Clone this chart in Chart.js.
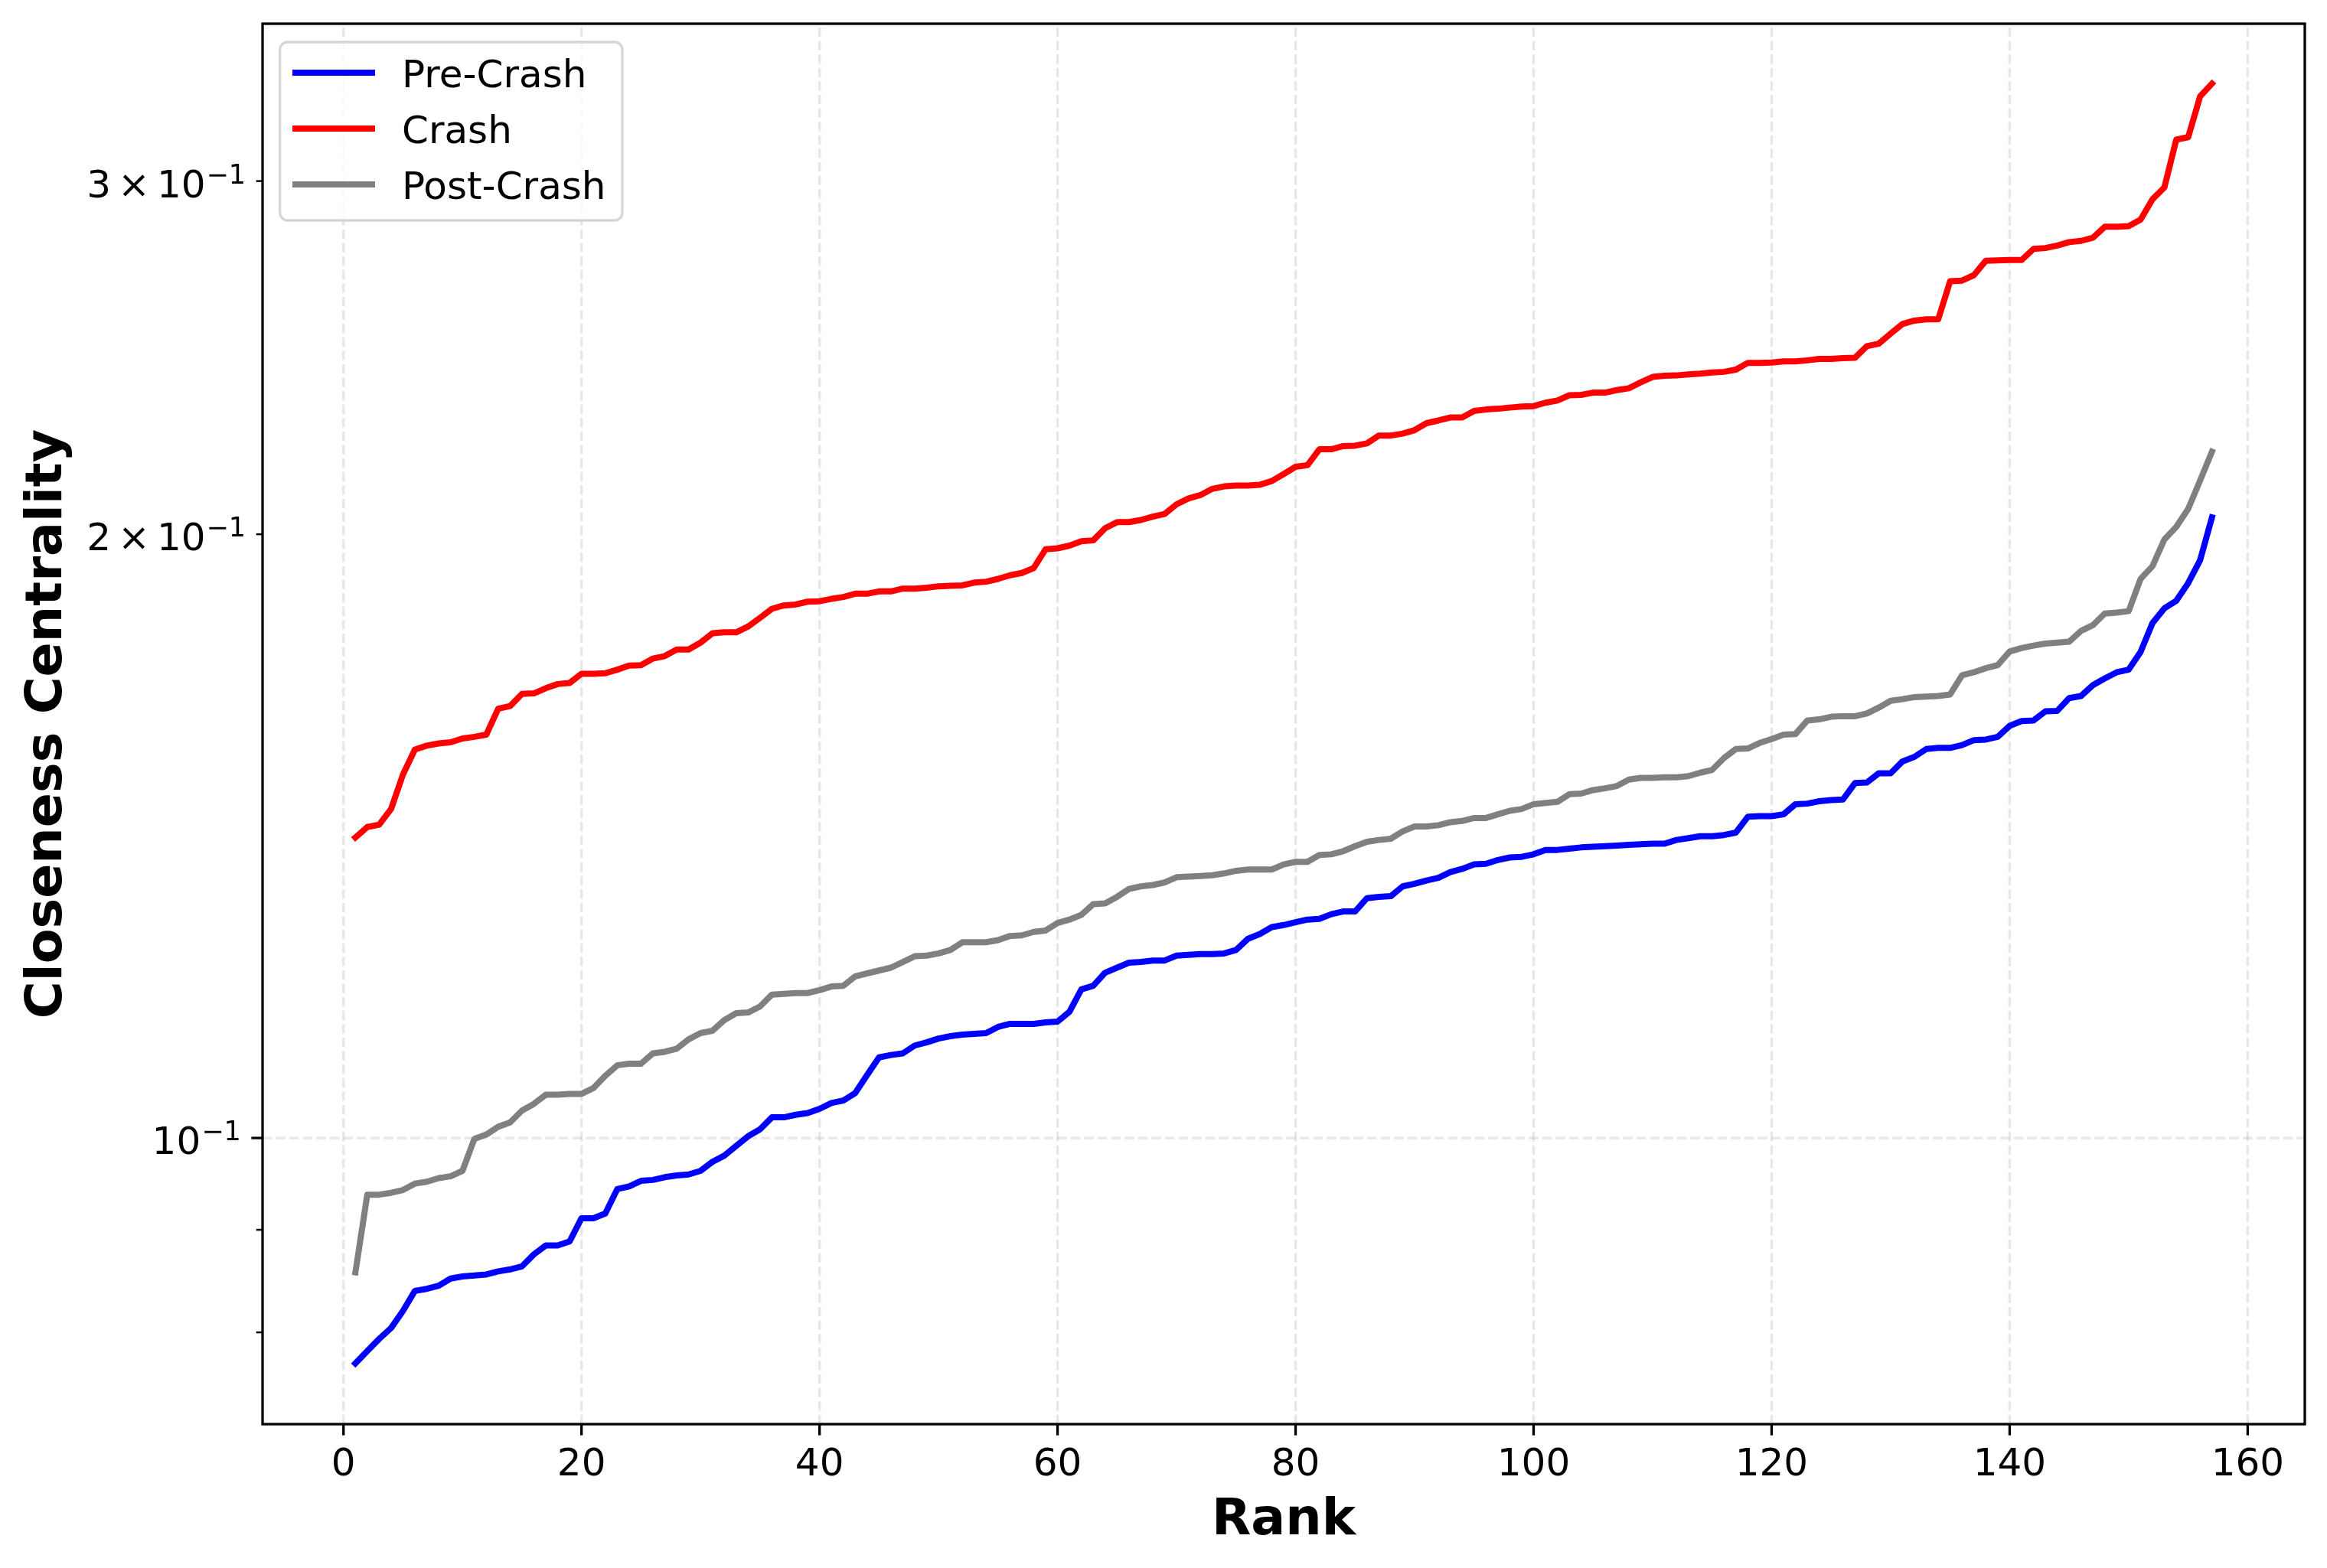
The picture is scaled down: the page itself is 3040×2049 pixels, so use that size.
<!DOCTYPE html>
<html>
<head>
<meta charset="utf-8">
<script src="https://cdn.jsdelivr.net/npm/chart.js@4.4.1/dist/chart.umd.min.js"></script>
<style>
  html, body { margin: 0; padding: 0; background: #fff; }
  canvas { display: block; }
</style>
</head>
<body>
<canvas id="chart" width="3040" height="2049"></canvas>
<script>
// rank (x) and closeness centrality per period (y)
const RANK = [
  1, 2, 3, 4, 5, 6, 7, 8, 9, 10, 11, 12, 13, 14, 15, 16, 17, 18, 19, 20,
  21, 22, 23, 24, 25, 26, 27, 28, 29, 30, 31, 32, 33, 34, 35, 36, 37, 38, 39, 40,
  41, 42, 43, 44, 45, 46, 47, 48, 49, 50, 51, 52, 53, 54, 55, 56, 57, 58, 59, 60,
  61, 62, 63, 64, 65, 66, 67, 68, 69, 70, 71, 72, 73, 74, 75, 76, 77, 78, 79, 80,
  81, 82, 83, 84, 85, 86, 87, 88, 89, 90, 91, 92, 93, 94, 95, 96, 97, 98, 99, 100,
  101, 102, 103, 104, 105, 106, 107, 108, 109, 110, 111, 112, 113, 114, 115, 116, 117, 118, 119, 120,
  121, 122, 123, 124, 125, 126, 127, 128, 129, 130, 131, 132, 133, 134, 135, 136, 137, 138, 139, 140,
  141, 142, 143, 144, 145, 146, 147, 148, 149, 150, 151, 152, 153, 154, 155, 156, 157
];

const PRE_CRASH = [
  0.0772, 0.0783, 0.0794, 0.0804, 0.0820, 0.0839, 0.0841, 0.0844, 0.0851, 0.0853,
  0.0854, 0.0855, 0.0858, 0.0860, 0.0863, 0.0875, 0.0884, 0.0884, 0.0888, 0.0912,
  0.0912, 0.0917, 0.0943, 0.0946, 0.0952, 0.0953, 0.0956, 0.0958, 0.0959, 0.0963,
  0.0973, 0.0980, 0.0991, 0.1002, 0.1010, 0.1024, 0.1024, 0.1027, 0.1029, 0.1034,
  0.1041, 0.1044, 0.1053, 0.1075, 0.1097, 0.1100, 0.1102, 0.1112, 0.1116, 0.1121,
  0.1124, 0.1126, 0.1127, 0.1128, 0.1136, 0.1140, 0.1140, 0.1140, 0.1142, 0.1143,
  0.1156, 0.1186, 0.1191, 0.1209, 0.1216, 0.1223, 0.1224, 0.1226, 0.1226, 0.1233,
  0.1234, 0.1235, 0.1235, 0.1236, 0.1241, 0.1257, 0.1264, 0.1274, 0.1277, 0.1281,
  0.1285, 0.1286, 0.1293, 0.1297, 0.1297, 0.1317, 0.1319, 0.1320, 0.1335, 0.1339,
  0.1344, 0.1348, 0.1357, 0.1362, 0.1369, 0.1370, 0.1376, 0.1380, 0.1381, 0.1385,
  0.1392, 0.1392, 0.1394, 0.1396, 0.1397, 0.1398, 0.1399, 0.1400, 0.1401, 0.1402,
  0.1402, 0.1408, 0.1411, 0.1414, 0.1414, 0.1416, 0.1420, 0.1446, 0.1447, 0.1447,
  0.1450, 0.1467, 0.1468, 0.1472, 0.1474, 0.1475, 0.1503, 0.1504, 0.1520, 0.1520,
  0.1541, 0.1549, 0.1563, 0.1565, 0.1565, 0.1570, 0.1579, 0.1580, 0.1585, 0.1605,
  0.1614, 0.1615, 0.1632, 0.1633, 0.1657, 0.1661, 0.1682, 0.1695, 0.1707, 0.1712,
  0.1747, 0.1806, 0.1837, 0.1853, 0.1891, 0.1941, 0.2039
];

const CRASH = [
  0.1412, 0.1429, 0.1433, 0.1459, 0.1518, 0.1562, 0.1569, 0.1573, 0.1575, 0.1582,
  0.1585, 0.1589, 0.1637, 0.1642, 0.1665, 0.1666, 0.1676, 0.1684, 0.1686, 0.1704,
  0.1704, 0.1705, 0.1712, 0.1720, 0.1721, 0.1734, 0.1739, 0.1752, 0.1752, 0.1766,
  0.1785, 0.1787, 0.1787, 0.1799, 0.1817, 0.1836, 0.1843, 0.1845, 0.1851, 0.1852,
  0.1857, 0.1861, 0.1868, 0.1868, 0.1873, 0.1873, 0.1879, 0.1879, 0.1881, 0.1884,
  0.1885, 0.1886, 0.1892, 0.1894, 0.1900, 0.1908, 0.1913, 0.1924, 0.1966, 0.1968,
  0.1974, 0.1984, 0.1986, 0.2014, 0.2028, 0.2028, 0.2033, 0.2041, 0.2047, 0.2070,
  0.2084, 0.2092, 0.2107, 0.2113, 0.2115, 0.2115, 0.2117, 0.2126, 0.2143, 0.2161,
  0.2165, 0.2205, 0.2205, 0.2213, 0.2214, 0.2220, 0.2240, 0.2240, 0.2245, 0.2254,
  0.2272, 0.2279, 0.2287, 0.2287, 0.2304, 0.2308, 0.2310, 0.2313, 0.2316, 0.2317,
  0.2326, 0.2332, 0.2346, 0.2347, 0.2353, 0.2353, 0.2360, 0.2365, 0.2381, 0.2396,
  0.2399, 0.2400, 0.2403, 0.2405, 0.2408, 0.2410, 0.2416, 0.2435, 0.2435, 0.2436,
  0.2439, 0.2439, 0.2442, 0.2446, 0.2446, 0.2448, 0.2449, 0.2482, 0.2489, 0.2518,
  0.2546, 0.2556, 0.2560, 0.2560, 0.2674, 0.2676, 0.2693, 0.2738, 0.2739, 0.2740,
  0.2740, 0.2775, 0.2778, 0.2786, 0.2797, 0.2801, 0.2811, 0.2847, 0.2847, 0.2849,
  0.2870, 0.2938, 0.2978, 0.3146, 0.3155, 0.3306, 0.3355
];

const POST_CRASH = [
  0.0857, 0.0937, 0.0937, 0.0939, 0.0942, 0.0949, 0.0951, 0.0955, 0.0957, 0.0963,
  0.0999, 0.1004, 0.1013, 0.1018, 0.1032, 0.1040, 0.1051, 0.1051, 0.1052, 0.1052,
  0.1059, 0.1074, 0.1087, 0.1089, 0.1089, 0.1102, 0.1104, 0.1108, 0.1120, 0.1128,
  0.1131, 0.1145, 0.1154, 0.1155, 0.1163, 0.1179, 0.1180, 0.1181, 0.1181, 0.1185,
  0.1190, 0.1191, 0.1204, 0.1208, 0.1212, 0.1216, 0.1224, 0.1232, 0.1233, 0.1236,
  0.1241, 0.1252, 0.1252, 0.1252, 0.1255, 0.1261, 0.1262, 0.1267, 0.1269, 0.1280,
  0.1285, 0.1292, 0.1308, 0.1309, 0.1319, 0.1331, 0.1335, 0.1337, 0.1341, 0.1349,
  0.1350, 0.1351, 0.1352, 0.1355, 0.1359, 0.1361, 0.1361, 0.1361, 0.1369, 0.1373,
  0.1373, 0.1384, 0.1385, 0.1390, 0.1398, 0.1405, 0.1408, 0.1410, 0.1422, 0.1430,
  0.1430, 0.1432, 0.1437, 0.1439, 0.1444, 0.1444, 0.1450, 0.1456, 0.1459, 0.1467,
  0.1469, 0.1471, 0.1484, 0.1485, 0.1491, 0.1494, 0.1498, 0.1509, 0.1512, 0.1512,
  0.1513, 0.1513, 0.1515, 0.1521, 0.1526, 0.1547, 0.1563, 0.1564, 0.1574, 0.1581,
  0.1589, 0.1590, 0.1615, 0.1617, 0.1622, 0.1623, 0.1623, 0.1628, 0.1639, 0.1652,
  0.1655, 0.1659, 0.1660, 0.1661, 0.1664, 0.1701, 0.1707, 0.1715, 0.1721, 0.1748,
  0.1755, 0.1760, 0.1764, 0.1766, 0.1768, 0.1790, 0.1802, 0.1826, 0.1828, 0.1831,
  0.1900, 0.1928, 0.1988, 0.2017, 0.2059, 0.2127, 0.2199
];

// ticks
const X_TICKS = [0, 20, 40, 60, 80, 100, 120, 140, 160];
const Y_MAJOR = [0.1];                       // decade tick, gets a grid line
const Y_MINOR = [0.08, 0.09, 0.2, 0.3];      // minor log ticks
const Y_LABEL_VALUES = [0.1, 0.2, 0.3];
const Y_LABEL_COEF = ['', '2', '3'];         // "c × 10^-1"

const FONT = '"DejaVu Sans", "Liberation Sans", sans-serif';
const GRID = 'rgba(176,176,176,0.3)';

const toXY = (ys) => RANK.map((x, i) => ({ x, y: ys[i] }));

// matplotlib style "c×10^{-1}" label, right edge at `right`, tick at y
function drawPowLabel(ctx, coef, y, right) {
  ctx.textAlign = 'left';
  ctx.textBaseline = 'alphabetic';
  ctx.fillStyle = '#000';
  const big = '50px ' + FONT, small = '35px ' + FONT;
  ctx.font = small;
  let x = right - ctx.measureText('\u22121').width;
  ctx.fillText('\u22121', x, y + 3);
  ctx.font = big;
  x -= ctx.measureText('10').width + 1;
  ctx.fillText('10', x, y + 21);
  if (coef) {
    x -= ctx.measureText('\u00d7').width + 9;
    ctx.fillText('\u00d7', x, y + 21);
    x -= ctx.measureText(coef).width + 9;
    ctx.fillText(coef, x, y + 21);
  }
}

const frame = {
  id: 'frame',
  beforeDatasetsDraw(chart) {
    const { ctx, chartArea: a, scales: { x, y } } = chart;
    ctx.save();
    ctx.strokeStyle = GRID;
    ctx.lineWidth = 3.3;
    ctx.setLineDash([12.3, 5.3]);
    X_TICKS.forEach((v) => {
      const px = x.getPixelForValue(v);
      ctx.beginPath(); ctx.moveTo(px, a.bottom); ctx.lineTo(px, a.top); ctx.stroke();
    });
    Y_MAJOR.forEach((v) => {
      const py = y.getPixelForValue(v);
      ctx.beginPath(); ctx.moveTo(a.left, py); ctx.lineTo(a.right, py); ctx.stroke();
    });
    ctx.restore();
  },
  afterDatasetsDraw(chart) {
    const { ctx, chartArea: a, scales: { x, y } } = chart;
    ctx.save();
    ctx.setLineDash([]);
    ctx.strokeStyle = '#000';

    // spines
    ctx.lineWidth = 3.3;
    ctx.strokeRect(a.left, a.top, a.right - a.left, a.bottom - a.top);

    // x ticks + labels
    ctx.fillStyle = '#000';
    ctx.font = '50px ' + FONT;
    ctx.textAlign = 'center';
    ctx.textBaseline = 'alphabetic';
    X_TICKS.forEach((v) => {
      const px = x.getPixelForValue(v);
      ctx.lineWidth = 3.3;
      ctx.beginPath(); ctx.moveTo(px, a.bottom); ctx.lineTo(px, a.bottom + 14.6); ctx.stroke();
      ctx.fillText(String(v), px, 1928);
    });

    // y ticks
    Y_MAJOR.forEach((v) => {
      const py = y.getPixelForValue(v);
      ctx.lineWidth = 3.3;
      ctx.beginPath(); ctx.moveTo(a.left, py); ctx.lineTo(a.left - 14.6, py); ctx.stroke();
    });
    Y_MINOR.forEach((v) => {
      const py = y.getPixelForValue(v);
      ctx.lineWidth = 2.5;
      ctx.beginPath(); ctx.moveTo(a.left, py); ctx.lineTo(a.left - 8.3, py); ctx.stroke();
    });
    Y_LABEL_VALUES.forEach((v, i) => {
      const major = Y_MAJOR.includes(v);
      const right = a.left - (major ? 14.6 : 8.3) - 13.6;
      drawPowLabel(ctx, Y_LABEL_COEF[i], y.getPixelForValue(v), right);
    });

    // axis titles
    ctx.font = 'bold 66.7px ' + FONT;
    ctx.textAlign = 'center';
    ctx.fillText('Rank', (a.left + a.right) / 2, 2005);
    ctx.save();
    ctx.translate(80, (a.top + a.bottom) / 2);
    ctx.rotate(-Math.PI / 2);
    ctx.fillText('Closeness Centrality', 0, 0);
    ctx.restore();

    // legend
    const bx = 365.7, by = 55, bw = 447.3, bh = 233, r = 10;
    ctx.beginPath();
    ctx.moveTo(bx + r, by);
    ctx.arcTo(bx + bw, by, bx + bw, by + bh, r);
    ctx.arcTo(bx + bw, by + bh, bx, by + bh, r);
    ctx.arcTo(bx, by + bh, bx, by, r);
    ctx.arcTo(bx, by, bx + bw, by, r);
    ctx.closePath();
    ctx.fillStyle = 'rgba(255,255,255,0.8)';
    ctx.fill();
    ctx.strokeStyle = 'rgba(204,204,204,0.8)';
    ctx.lineWidth = 3.3;
    ctx.stroke();

    ctx.font = '50px ' + FONT;
    ctx.textAlign = 'left';
    chart.data.datasets.forEach((ds, i) => {
      const ly = 95 + i * 73;
      ctx.strokeStyle = ds.borderColor;
      ctx.lineWidth = 8;
      ctx.lineCap = 'butt';
      ctx.beginPath(); ctx.moveTo(382, ly); ctx.lineTo(490, ly); ctx.stroke();
      ctx.fillStyle = '#000';
      ctx.fillText(ds.label, 525, ly + 19.3);
    });
    ctx.restore();
  },
};

new Chart(document.getElementById('chart').getContext('2d'), {
  type: 'line',
  data: {
    datasets: [
      { label: 'Pre-Crash', data: toXY(PRE_CRASH), borderColor: '#0000ff' },
      { label: 'Crash', data: toXY(CRASH), borderColor: '#ff0000' },
      { label: 'Post-Crash', data: toXY(POST_CRASH), borderColor: '#808080' },
    ],
  },
  options: {
    responsive: false,
    animation: false,
    devicePixelRatio: 1,
    layout: { padding: { left: 343, right: 29, top: 31, bottom: 188 } },
    elements: {
      line: { borderWidth: 8, tension: 0, borderJoinStyle: 'round', borderCapStyle: 'square', fill: false },
      point: { radius: 0, hoverRadius: 0 },
    },
    plugins: { legend: { display: false }, tooltip: { enabled: false } },
    scales: {
      x: { type: 'linear', display: false, bounds: 'data', min: -6.8, max: 164.8 },
      y: { type: 'logarithmic', display: false, bounds: 'data', min: 0.0720, max: 0.3594 },
    },
  },
  plugins: [frame],
});
</script>
</body>
</html>
